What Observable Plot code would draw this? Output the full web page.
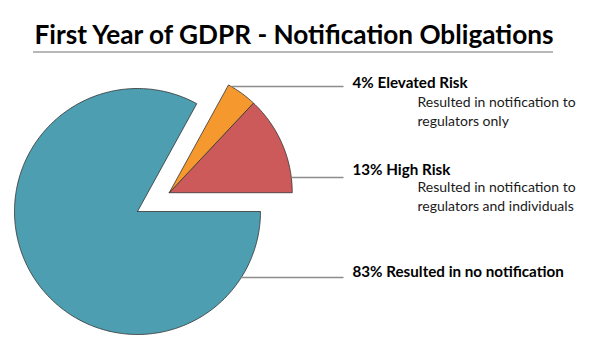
<!DOCTYPE html>
<html><head><meta charset="utf-8">
<script src="https://cdn.jsdelivr.net/npm/d3@7"></script>
<script src="https://cdn.jsdelivr.net/npm/@observablehq/plot@0.6"></script>
<style>
body{margin:0;background:#fff;}
#wrap{position:relative;width:600px;height:360px;font-family:Lato,sans-serif;}
#title{position:absolute;left:0;top:16px;width:588px;text-align:center;font-weight:700;font-size:26.2px;line-height:36px;color:#000;white-space:nowrap;}
#rule{position:absolute;left:33px;top:51px;width:520px;height:2px;background:#b8b8b8;}
#chart{position:absolute;left:0;top:0;}
</style></head><body>
<div id="wrap"><div id="chart"></div><div id="title">First Year of GDPR - Notification Obligations</div><div id="rule"></div></div>
<script>
// ---- data ----
const categories = ["High Risk", "Elevated Risk", "Resulted in no notification"];
const shares = [13, 4, 83];
const descriptions = [["Resulted in notification to", "regulators and individuals"], ["Resulted in notification to", "regulators only"], []];
const exploded = [true, true, false];
const sliceColors = ["#cd5a5a", "#f5992e", "#4d9eb0"];

// ---- layout (pixels) ----
const W = 600, H = 360, R = 123, CX = 137, CY = 211, EXPLODE = 0.3;
const leaderY = [177, 86, 277];
const leaderEndX = 343;
const labelX = 352, labelBase = [174, 87, 276];
const subX = 417, subLastBase = [210, 125, 0];

const px2x = p => (p - CX) / R;
const px2y = p => (CY - p) / R;

// angles (counterclockwise from east)
const total = d3.sum(shares);
const ends = d3.cumsum(shares).map(v => v / total * 2 * Math.PI);
const starts = [0, ...ends.slice(0, -1)];
const explodedEnd = d3.max(ends.filter((e, i) => exploded[i]));
const mid = explodedEnd / 2;
const off = categories.map((c, i) => exploded[i] ? [EXPLODE * Math.cos(mid), EXPLODE * Math.sin(mid)] : [0, 0]);

const pts = [];
categories.forEach((c, i) => {
  const [ox, oy] = off[i];
  const a0 = starts[i], a1 = ends[i];
  const n = Math.max(2, Math.ceil((a1 - a0) / (Math.PI / 180)));
  pts.push({cat: c, x: ox, y: oy});
  for (let k = 0; k <= n; k++) {
    const a = a0 + (a1 - a0) * k / n;
    pts.push({cat: c, x: ox + Math.cos(a), y: oy + Math.sin(a)});
  }
  pts.push({cat: c, x: ox, y: oy});
});

const leaders = categories.map((c, i) => {
  const [ox, oy] = off[i];
  const y = px2y(leaderY[i]);
  const x = ox + Math.sqrt(Math.max(0, 1 - (y - oy) ** 2));
  return {x1: x, x2: px2x(leaderEndX), y};
});

const idx = d3.range(categories.length);
const subIdx = idx.filter(i => descriptions[i].length);

const chart = Plot.plot({
  width: W, height: H,
  margin: 0,
  x: {domain: [px2x(0), px2x(W)], range: [0, W], axis: null},
  y: {domain: [px2y(H), px2y(0)], range: [H, 0], axis: null},
  color: {domain: categories, range: sliceColors},
  style: {fontFamily: "Lato, sans-serif", background: "transparent"},
  marks: [
    Plot.line(pts, {x: "x", y: "y", z: "cat", fill: "cat", stroke: "#333", strokeWidth: 0.8, curve: "linear"}),
    Plot.link(leaders, {x1: "x1", x2: "x2", y1: "y", y2: "y", stroke: "#8c8c8c", strokeWidth: 1.5}),
    Plot.text(idx, {x: () => px2x(labelX), y: i => px2y(labelBase[i]), text: i => `${shares[i]}% ${categories[i]}`,
      textAnchor: "start", lineAnchor: "bottom", fontSize: 15.2, fontWeight: 700, fill: "#000"}),
    Plot.text(subIdx, {x: () => px2x(subX), y: i => px2y(subLastBase[i]), text: i => descriptions[i].join("\n"),
      textAnchor: "start", lineAnchor: "bottom", lineHeight: 1.3, fontSize: 14, fill: "#1a1a1a"})
  ]
});
document.getElementById("chart").appendChild(chart);
</script>
</body></html>
